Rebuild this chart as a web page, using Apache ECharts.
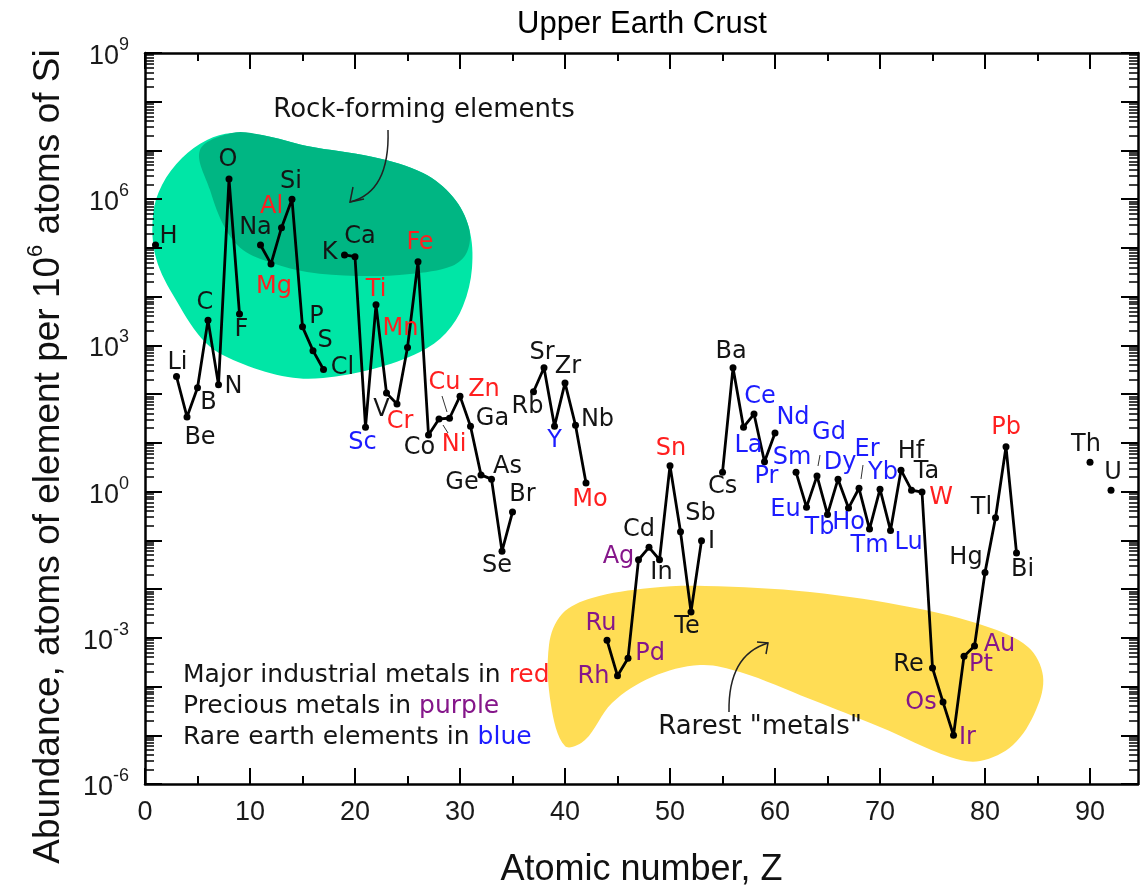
<!DOCTYPE html>
<html><head><meta charset="utf-8">
<script src="https://cdn.jsdelivr.net/npm/echarts@6/dist/echarts.min.js"></script>
<style>html,body{margin:0;padding:0;background:#fff}#c{width:1148px;height:886px}</style>
</head><body><div id="c"></div>
<script>
// ---------------- data ----------------
const elements = ['H','Li','Be','B','C','N','O','F','Na','Mg','Al','Si','P','S','Cl','K','Ca','Sc','Ti','V','Cr','Mn','Fe','Co','Ni','Cu','Zn','Ga','Ge','As','Se','Br','Rb','Sr','Y','Zr','Nb','Mo','Ru','Rh','Pd','Ag','Cd','In','Sn','Sb','Te','I','Cs','Ba','La','Ce','Pr','Nd','Sm','Eu','Gd','Tb','Dy','Ho','Er','Tm','Yb','Lu','Hf','Ta','W','Re','Os','Ir','Pt','Au','Hg','Tl','Pb','Bi','Th','U'];
const atomicNumbers = [1,3,4,5,6,7,8,9,11,12,13,14,15,16,17,19,20,21,22,23,24,25,26,27,28,29,30,31,32,33,34,35,37,38,39,40,41,42,44,45,46,47,48,49,50,51,52,53,55,56,57,58,59,60,62,63,64,65,66,67,68,69,70,71,72,73,74,75,76,77,78,79,80,81,82,83,90,92];
// abundance, atoms of element per 1e6 atoms of Si
const abundance = [1.15e5,230,34,135,3300,155,2.6e6,4400,1.15e5,4.7e4,2.6e5,1e6,2400,780,320,7.2e4,6.6e4,21,6800,105,63,910,5.2e4,14.5,31,32,91,22,2.2,1.8,0.060,0.38,112,347,22,170,23,1.5,8.9e-4,1.66e-4,3.8e-4,0.040,0.072,0.040,3.4,0.15,3.4e-3,0.098,2.5,347,21,39,4.1,16,2.5,0.48,2.1,0.34,1.8,0.46,1.17,0.17,1.12,0.16,2.75,1.07,0.98,2.4e-4,4.8e-5,1.0e-5,4.2e-4,6.8e-4,0.022,0.29,8.3,0.055,4.0,1.07];
const redMetals = ['Mg','Al','Ti','Cr','Mn','Fe','Ni','Cu','Zn','Mo','Sn','W','Pb'];
const preciousMetals = ['Ru','Rh','Pd','Ag','Os','Ir','Pt','Au'];
const rareEarths = ['Sc','Y','La','Ce','Pr','Nd','Sm','Eu','Gd','Tb','Dy','Ho','Er','Tm','Yb','Lu'];
const xTickValues = [0,10,20,30,40,50,60,70,80,90];
const xMinorTickValues = [5,15,25,35,45,55,65,75,85];
const yDecades = [-6,-5,-4,-3,-2,-1,0,1,2,3,4,5,6,7,8,9];
const yLabelDecades = [-6,-3,0,3,6,9];
const legendLines = [['Major industrial metals in ','red'],['Precious metals in ','purple'],['Rare earth elements in ','blue']];

// ---------------- style ----------------
const RED = '#ff1f1f', PURPLE = '#85168a', BLUE = '#1c1cff', INK = '#141414';
const labelOffset = {
 H:[13,-8], Li:[1,-14], Be:[13,21], B:[11,15], C:[-3,-17], N:[15,2], O:[-1,-19], F:[2,16],
 Na:[-5,-17], Mg:[3,23], Al:[-10,-21], Si:[-1,-17], P:[14,-10], S:[12,-10], Cl:[19,-2],
 K:[-15,-2], Ca:[5,-20], Sc:[-3,16], Ti:[0,-15], V:[-5,17], Cr:[3,18], Mn:[-7,-19], Fe:[2,-19],
 Co:[-9,13], Ni:[15,26], Cu:[-5,-35], Zn:[24,-6], Ga:[22,-7], Ge:[-19,8], As:[16,-12], Se:[-5,15], Br:[10,-17],
 Rb:[-6,15], Sr:[-2,-15], Y:[0,15], Zr:[3,-16], Nb:[22,-5], Mo:[4,17],
 Ru:[-6,-17], Rh:[-24,1], Pd:[22,-5], Ag:[-20,-3], Cd:[-10,-18], In:[2,13], Sn:[1,-17], Sb:[20,-18], Te:[-4,15], I:[10,1],
 Cs:[0,15], Ba:[-2,-16], La:[5,19], Ce:[6,-17], Pr:[2,15], Nd:[18,-15],
 Sm:[-4,-14], Eu:[-21,3], Gd:[12,-43], Tb:[-8,13], Dy:[2,-16], Ho:[0,15], Er:[8,-39], Tm:[0,17], Yb:[3,-16], Lu:[18,12],
 Hf:[10,-18], Ta:[15,-18], W:[19,6], Re:[-24,-3], Os:[-22,1], Ir:[14,2], Pt:[17,9], Au:[25,-1],
 Hg:[-19,-15], Tl:[-14,-10], Pb:[0,-19], Bi:[6,17], Th:[-4,-17], U:[2,-17]
};
function colorOf(el){
  if (redMetals.includes(el)) return RED;
  if (preciousMetals.includes(el)) return PURPLE;
  if (rareEarths.includes(el)) return BLUE;
  return INK;
}

// ---------------- build series data (gaps break the line) ----------------
const seriesData = [];
elements.forEach((el, i) => {
  const z = atomicNumbers[i];
  if (i > 0 && z - atomicNumbers[i-1] > 1) seriesData.push({value:[atomicNumbers[i-1] + 1, '-'], label:{show:false}});
  seriesData.push({
    name: el,
    value: [z, Math.log10(abundance[i])],
    label: {show: true, offset: labelOffset[el] || [0,-16], color: colorOf(el)}
  });
});
const yMinorTicks = [];
yDecades.slice(0, -1).forEach(n => { for (let k = 2; k <= 9; k++) yMinorTicks.push(n + Math.log10(k)); });

// ---------------- axes ----------------
const XMAX = 94.57;
function xAx(pos, major, withLabel){
  return {
    type:'value', position:pos, min:0, max:XMAX, splitLine:{show:false},
    axisLine:{show: major, onZero:false, lineStyle:{color:'#000', width:2.5}},
    axisTick:{show:true, inside:true, length: major ? 16 : 8, customValues: major ? xTickValues : xMinorTickValues, lineStyle:{color:'#000', width:2}},
    axisLabel:{show: withLabel, customValues: xTickValues, fontSize:27, fontFamily:'Liberation Sans', color:'#1a1a1a', margin:15},
  };
}
function yAx(pos, major, withLabel){
  return {
    type:'value', position:pos, min:-6, max:9, splitLine:{show:false},
    axisLine:{show: major, onZero:false, lineStyle:{color:'#000', width:2.5}},
    axisTick:{show:true, inside:true, length: major ? 17 : 9, customValues: major ? yDecades : yMinorTicks, lineStyle:{color:'#000', width: major ? 2 : 1.5}},
    axisLabel:{show: withLabel, customValues: yLabelDecades, margin:16,
      formatter: v => '{a|10}{b|' + Math.round(v) + '}',
      rich:{a:{fontSize:27, fontFamily:'Liberation Sans', color:'#1a1a1a', lineHeight:34, verticalAlign:'bottom'},
            b:{fontSize:18, fontFamily:'Liberation Sans', color:'#1a1a1a', lineHeight:18, verticalAlign:'top'}}}
  };
}
const xAxes = [xAx('bottom', true, true), xAx('bottom', false, false), xAx('top', true, false), xAx('top', false, false)];
Object.assign(xAxes[0], {name:'Atomic number, Z', nameLocation:'middle', nameGap:68, nameMoveOverlap:false,
  nameTextStyle:{fontSize:36, fontFamily:'Liberation Sans', color:'#111'}});
const yAxes = [yAx('left', true, true), yAx('left', false, false), yAx('right', true, false), yAx('right', false, false)];
Object.assign(yAxes[0], {name:'{n|Abundance, atoms of element per 10}{s|6}{n| atoms of Si}', nameLocation:'middle', nameRotate:90, nameGap:78, nameMoveOverlap:false,
  nameTextStyle:{padding:[0,76,0,0], rich:{
    n:{fontSize:37, fontFamily:'Liberation Sans', color:'#111', lineHeight:42, verticalAlign:'bottom'},
    s:{fontSize:22, fontFamily:'Liberation Sans', color:'#111', lineHeight:22, verticalAlign:'top'}}}});

// ---------------- annotations ----------------
const F = '"DejaVu Sans"';
const graphics = [
  {type:'polygon', z:0, silent:true, shape:{smooth:0.35, points:[[153,215],[162,185],[182,158],[207,140],[232,133],[262,135],[307,146],[373,157],[423,173],[453,197],[469,228],[472,268],[463,306],[446,333],[420,352],[373,369],[323,378],[288,377],[243,364],[207,344],[176,300],[156,258]]}, style:{fill:'#00e6a6'}},
  {type:'polygon', z:0, silent:true, shape:{smooth:0.35, points:[[200,150],[232,133],[262,135],[307,146],[373,157],[423,173],[453,197],[469,228],[467,252],[452,266],[410,274],[357,276],[307,272],[272,263],[243,250],[225,228],[210,190]]}, style:{fill:'#00b683'}},
  {type:'polygon', z:0, silent:true, shape:{smooth:0.35, points:[[549,645],[562,614],[592,598],[650,588],[705,586],[810,592],[915,608],[985,626],[1028,647],[1043,676],[1036,710],[1013,745],[980,761],[950,757],[880,727],[810,699],[740,672],[700,665],[652,677],[612,703],[585,740],[565,746],[551,705]]}, style:{fill:'#ffdd55'}},
  {type:'text', z:10, silent:true, style:{x:424, y:110, text:'Rock-forming elements', font:'26px ' + F, fill:INK, align:'center', verticalAlign:'middle'}},
  {type:'bezierCurve', z:10, silent:true, shape:{x1:388, y1:130, cpx1:390, cpy1:192, x2:350, y2:202}, style:{stroke:'#222', lineWidth:1.5, fill:null}},
  {type:'polyline', z:10, silent:true, shape:{points:[[353,187],[350,202],[364,199]]}, style:{stroke:'#222', lineWidth:1.5, fill:null}},
  {type:'text', z:10, silent:true, style:{x:760, y:727, text:'Rarest "metals"', font:'26px ' + F, fill:INK, align:'center', verticalAlign:'middle'}},
  {type:'bezierCurve', z:10, silent:true, shape:{x1:729, y1:712, cpx1:728, cpy1:655, x2:768, y2:643}, style:{stroke:'#222', lineWidth:1.5, fill:null}},
  {type:'polyline', z:10, silent:true, shape:{points:[[757,642],[768,643],[766,654]]}, style:{stroke:'#222', lineWidth:1.5, fill:null}},
  {type:'line', z:10, silent:true, shape:{x1:442, y1:396, x2:447, y2:412}, style:{stroke:'#333', lineWidth:1}},
  {type:'line', z:10, silent:true, shape:{x1:443, y1:425, x2:448, y2:433}, style:{stroke:'#333', lineWidth:1}},
  {type:'line', z:10, silent:true, shape:{x1:820, y1:455, x2:818, y2:466}, style:{stroke:'#333', lineWidth:1}},
  {type:'line', z:10, silent:true, shape:{x1:863, y1:465, x2:861, y2:479}, style:{stroke:'#333', lineWidth:1}}
];
const legendColors = {red:RED, purple:PURPLE, blue:BLUE};
legendLines.forEach((ln, i) => {
  graphics.push({type:'text', z:10, silent:true, style:{x:183, y:675 + i*31, text: ln[0] + '{c|' + ln[1] + '}', font:'25px ' + F, fill:INK, align:'left', verticalAlign:'middle',
    rich:{c:{fill: legendColors[ln[1]], font:'25px ' + F}}}});
});

const chart = echarts.init(document.getElementById('c'), null, {renderer:'canvas'});
chart.setOption({
  animation:false,
  backgroundColor:'#fff',
  title:{text:'Upper Earth Crust', left:512, top:4, textStyle:{fontSize:31, fontWeight:'normal', fontFamily:'Liberation Sans', color:'#000'}},
  grid:{left:145, right:10, top:53, bottom:102, containLabel:false, outerBoundsMode:'none'},
  xAxis: xAxes,
  yAxis: yAxes,
  graphic: graphics,
  series:[{
    type:'line', xAxisIndex:0, yAxisIndex:0, z:5,
    data: seriesData, connectNulls:false, showAllSymbol:true,
    symbol:'circle', symbolSize:7, itemStyle:{color:'#000'},
    lineStyle:{color:'#000', width:2.8},
    label:{show:true, position:'inside', formatter:'{b}', fontSize:24, fontFamily:'DejaVu Sans', align:'center', verticalAlign:'middle'},
    emphasis:{disabled:true}
  }]
});
</script>
</body></html>
